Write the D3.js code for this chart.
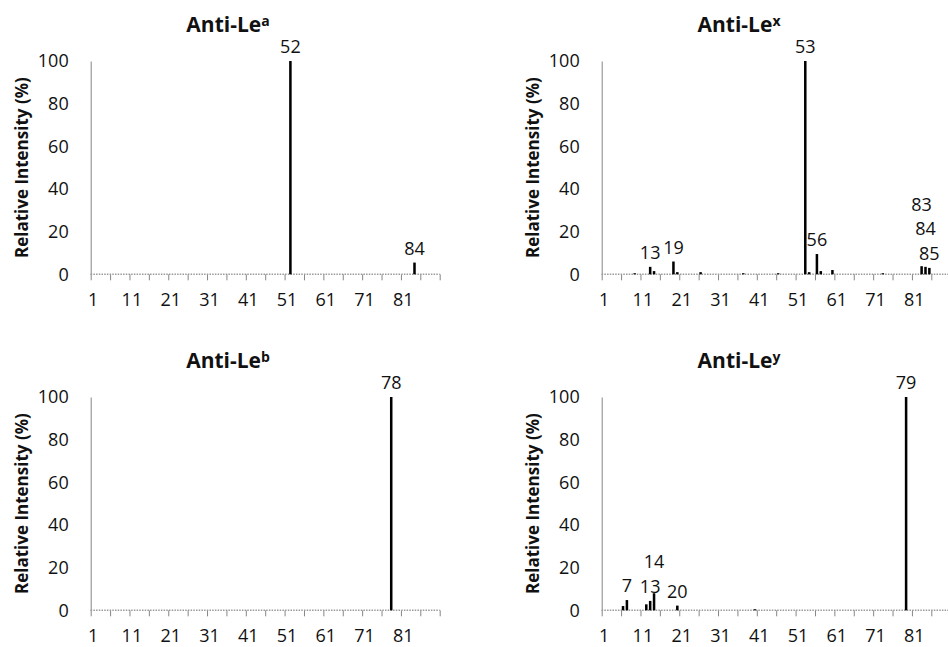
<!DOCTYPE html>
<html>
  <head>
    <meta charset="utf-8">
    <title>anti-lewis spectra</title>
    <style>
      body { margin: 0; background: #fff; }
      text { font-family: "Open Sans", sans-serif; fill: #111; }
    </style>
  </head>
  <body>
    <script src="https://cdn.jsdelivr.net/npm/d3@7"></script>
    <script>
      // categories 1..90 on the x axis
      var categories = d3.range(1, 91);
      var xLabelTicks = [1, 11, 21, 31, 41, 51, 61, 71, 81];
      var yTicks = [0, 20, 40, 60, 80, 100];

      // [category, relative intensity %]
      var leaValues = [[52, 100], [84, 5.5]];
      var lexValues = [[9, 0.5], [13, 3.5], [14, 1.5], [19, 6], [20, 1], [26, 1], [37, 0.5], [46, 0.5],
                       [53, 100], [54, 1], [56, 9.5], [57, 1.5], [60, 2], [73, 0.5],
                       [83, 3.8], [84, 3.5], [85, 3]];
      var lebValues = [[78, 100]];
      var leyValues = [[6, 2], [7, 4.8], [12, 2.8], [13, 4.4], [14, 8], [20, 2.2], [40, 0.5], [79, 100]];

      // which peaks get a number on top
      var leaLabels = [52, 84];
      var lexLabels = [13, 19, 53, 56, 83, 84, 85];
      var lebLabels = [78];
      var leyLabels = [7, 13, 14, 20, 79];

      var panels = [
        { sup: "a", values: leaValues, labels: leaLabels, ox: 0, oy: 0 },
        { sup: "x", values: lexValues, labels: lexLabels, ox: 511, oy: 0 },
        { sup: "b", values: lebValues, labels: lebLabels, ox: 0, oy: 336 },
        { sup: "y", values: leyValues, labels: leyLabels, ox: 511, oy: 336 }
      ];

      var width = 948, height = 647;
      var m = { left: 90.7, top: 61 };
      var pw = 349, ph = 213.3;
      var axisColor = "#868686";

      var svg = d3.select("body").append("svg")
        .attr("width", width)
        .attr("height", height);

      // x: category centre positions, boundaries at half steps
      var x = d3.scaleLinear().domain([categories[0] - 0.5, categories[categories.length - 1] + 0.5]).range([0, pw]);
      var y = d3.scaleLinear().domain([0, 100]).range([ph, 0]);
      var barW = (x(2) - x(1)) * 0.65;

      panels.forEach(function(p) {
        var g = svg.append("g").attr("transform", "translate(" + p.ox + "," + p.oy + ")");

        // title
        var t = g.append("text")
          .attr("x", 228)
          .attr("y", 31.7)
          .attr("text-anchor", "middle")
          .style("font-weight", "bold")
          .style("font-size", "21px");
        t.append("tspan").text("Anti-Le");
        t.append("tspan").text(p.sup).style("font-size", "14px").attr("dy", -6);

        // y axis title
        g.append("text")
          .attr("transform", "translate(28," + (m.top + ph / 2) + ") rotate(-90)")
          .attr("text-anchor", "middle")
          .style("font-weight", "bold")
          .style("font-size", "17px")
          .text("Relative Intensity (%)");

        var plot = g.append("g").attr("transform", "translate(" + m.left + "," + m.top + ")");

        // y axis
        var yAxis = plot.append("g")
          .call(d3.axisLeft(y).tickValues(yTicks).tickSize(0).tickPadding(22));
        yAxis.select(".domain").attr("stroke", axisColor);
        yAxis.selectAll("text").style("font-size", "18px").attr("fill", "#111");

        // x tick marks every 5 categories
        var tickMarks = d3.range(categories[0] - 0.5, categories[categories.length - 1] + 1, 5);
        var xTickAxis = plot.append("g")
          .attr("transform", "translate(0," + ph + ")")
          .call(d3.axisBottom(x).tickValues(tickMarks).tickFormat("").tickSize(6).tickSizeOuter(0));
        xTickAxis.select(".domain").remove();
        xTickAxis.selectAll("line").attr("stroke", axisColor);

        // x labels every 10 categories
        var xLab = plot.append("g")
          .attr("transform", "translate(0," + ph + ")")
          .call(d3.axisBottom(x).tickValues(xLabelTicks).tickSize(0).tickPadding(19));
        xLab.select(".domain").remove();
        xLab.selectAll("text").style("font-size", "18px").attr("fill", "#111");

        // dotted baseline
        plot.append("line")
          .attr("x1", 0).attr("x2", pw)
          .attr("y1", ph).attr("y2", ph)
          .attr("stroke", "#9a9a9a")
          .attr("stroke-width", 1.5)
          .attr("stroke-dasharray", "1.5,1.2");

        // bars
        plot.selectAll("rect.bar")
          .data(p.values)
          .enter()
          .append("rect")
          .attr("class", "bar")
          .attr("x", function(d) { return x(d[0]) - barW / 2; })
          .attr("y", function(d) { return y(d[1]); })
          .attr("width", barW)
          .attr("height", function(d) { return ph - y(d[1]); })
          .attr("fill", "#000");

        // peak labels, lowest first; push a label up while it hits one already placed
        var lab = p.values.filter(function(d) { return p.labels.indexOf(d[0]) >= 0; })
          .sort(function(a, b) { return a[1] - b[1]; });
        var placed = [];
        lab.forEach(function(d) {
          var by = y(d[1]) - 8;
          var tx = plot.append("text")
            .attr("x", x(d[0]))
            .attr("y", by)
            .attr("text-anchor", "middle")
            .style("font-size", "18px")
            .text(d[0]);
          var bb = tx.node().getBBox();
          var box = { x0: bb.x, x1: bb.x + bb.width, y0: bb.y, y1: bb.y + bb.height };
          var total = 0;
          for (var k = 0; k < 10; k++) {
            var hit = placed.find(function(b) {
              return box.x0 < b.x1 && box.x1 > b.x0 && box.y0 < b.y1 && box.y1 > b.y0;
            });
            if (!hit) break;
            var shift = box.y1 - hit.y0 + 0.5;
            box.y0 -= shift; box.y1 -= shift; total += shift;
          }
          placed.push(box);
          tx.attr("y", by - total);
        });
      });
    </script>
  </body>
</html>
